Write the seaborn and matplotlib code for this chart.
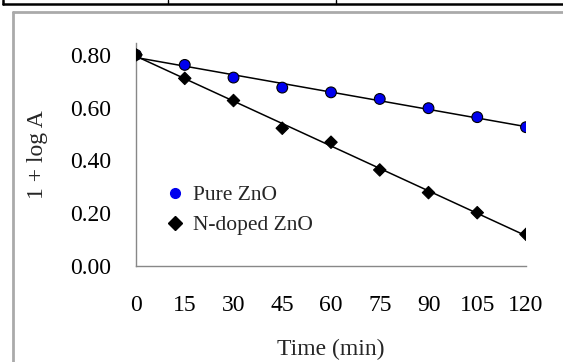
import pandas as pd
import matplotlib
matplotlib.use('Agg')
import matplotlib.pyplot as plt
import seaborn as sns
from matplotlib.lines import Line2D

# values
time_min = [0, 15, 30, 45, 60, 75, 90, 105, 120]
pure_zno = [0.80, 0.762, 0.714, 0.676, 0.658, 0.633, 0.598, 0.564, 0.526]
n_doped_zno = [0.80, 0.711, 0.627, 0.522, 0.469, 0.364, 0.278, 0.202, 0.120]
series_names = ['Pure ZnO', 'N-doped ZnO']
x_ticks = [0, 15, 30, 45, 60, 75, 90, 105, 120]
y_ticks = [0.0, 0.2, 0.4, 0.6, 0.8]

data = pd.DataFrame({
    'Time': time_min * 2,
    'Value': pure_zno + n_doped_zno,
    'Sample': [series_names[0]] * len(time_min) + [series_names[1]] * len(time_min),
})

sns.set_style('white')
plt.rcParams['font.family'] = ['Liberation Serif', 'DejaVu Serif']

fig = plt.figure(figsize=(5.63, 3.62), dpi=100)
ax = fig.add_axes([136 / 563, 1 - 266 / 362, 390 / 563, 223 / 362])

# trend lines first, markers on top
for name in series_names:
    sub = data[data['Sample'] == name]
    sns.regplot(data=sub, x='Time', y='Value', ax=ax, scatter=False, ci=None,
                color='black', line_kws={'linewidth': 1.1, 'zorder': 2})

sns.scatterplot(data=data, x='Time', y='Value', hue='Sample', style='Sample', size='Sample',
                palette={'Pure ZnO': '#0000ee', 'N-doped ZnO': 'black'},
                markers={'Pure ZnO': 'o', 'N-doped ZnO': 'D'},
                sizes={'Pure ZnO': 60, 'N-doped ZnO': 40},
                edgecolor='black', linewidth=0.8, ax=ax, zorder=3, legend=False)

ax.set_xlim(0, 120)
ax.set_ylim(0, 0.845)
ax.set_xticks(x_ticks)
ax.set_yticks(y_ticks)
ax.set_yticklabels([f'{v:.2f}' for v in y_ticks])
ax.tick_params(axis='both', labelsize=17, colors='#888888', length=5, width=1,
               direction='out', labelcolor='black')
ax.tick_params(axis='x', pad=16)
ax.tick_params(axis='y', pad=13)
sns.despine(ax=ax)
for s in ['left', 'bottom']:
    ax.spines[s].set_color('#888888')
    ax.spines[s].set_linewidth(1)

ax.set_xlabel('Time (min)', fontsize=17, labelpad=16)
ax.set_ylabel('1 + log A', fontsize=17, labelpad=16)

handles = [
    Line2D([], [], marker='o', linestyle='', markersize=7, markerfacecolor='#0000ee', markeredgecolor='#0000ee'),
    Line2D([], [], marker='D', linestyle='', markersize=7, markerfacecolor='black', markeredgecolor='black'),
]
ax.legend(handles, series_names, loc='upper left', bbox_to_anchor=(0.035, 0.40),
          frameon=False, fontsize=15.5, handletextpad=0.0, labelspacing=0.45,
          borderaxespad=0, handlelength=1.6)

# document framing around the chart
fig.add_artist(Line2D([3 / 563, 1], [1 - 4 / 362] * 2, color='black', linewidth=1.8))
fig.add_artist(Line2D([3 / 563] * 2, [1 - 4 / 362, 1], color='black', linewidth=1.8))
for xd in [168, 336]:
    fig.add_artist(Line2D([xd / 563] * 2, [1 - 4 / 362, 1], color='black', linewidth=1))
fig.add_artist(Line2D([13 / 563, 1], [1 - 12 / 362] * 2, color='#aaaaaa', linewidth=2))
fig.add_artist(Line2D([13 / 563] * 2, [0, 1 - 12 / 362], color='#aaaaaa', linewidth=2))

fig.savefig('out.png', dpi=100)
